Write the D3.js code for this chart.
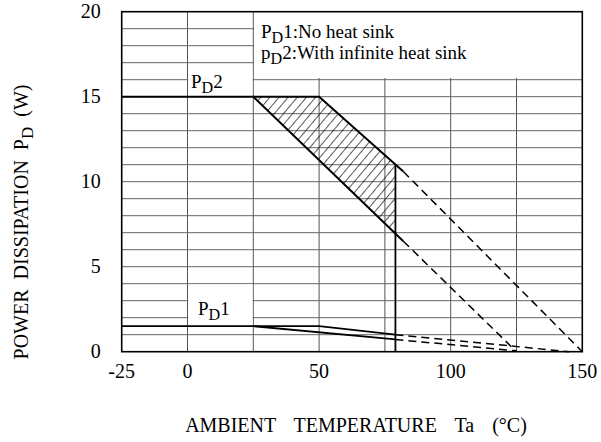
<!DOCTYPE html>
<html>
<head>
<meta charset="utf-8">
<script src="https://cdn.jsdelivr.net/npm/d3@7"></script>
<style>
  body { margin: 0; background: #fff; }
  text { font-family: "Liberation Serif", "Times New Roman", serif; fill: #000; }
</style>
</head>
<body>
<div class="dataviz"></div>
<script>
// derating curve
var xTicks = [-25, 0, 50, 100, 150];
var yTicks = [0, 5, 10, 15, 20];
var xGrid = [0, 25, 50, 75, 100, 125];
var yGrid = [1, 2, 3, 4, 5, 6, 7, 8, 9, 10, 11, 12, 13, 14, 15, 16, 17, 18, 19];

// P_D2 with infinite heat sink (two bounds, hatched between)
var pd2Upper = [[-25, 15], [50, 15], [82, 10.6]];
var pd2Lower = [[25, 15], [82, 6.5]];
var pd2UpperDash = [[82, 10.6], [150, 0]];
var pd2LowerDash = [[82, 6.5], [125, 0]];
var pd2Hatch = [[25, 15], [50, 15], [79, 11], [79, 6.95]];
var cutoff = [[79, 11], [79, 0]];

// P_D1 no heat sink
var pd1Upper = [[-25, 1.5], [50, 1.5], [79, 1.0]];
var pd1Lower = [[25, 1.5], [79, 0.72]];
var pd1UpperDash = [[79, 1.0], [145, 0]];
var pd1LowerDash = [[79, 0.72], [125, 0.05]];

var W = 601, H = 442;
var margin = {top: 11.7, right: 18.7, bottom: 90.3, left: 121.7};
var width = W - margin.left - margin.right,
    height = H - margin.top - margin.bottom;

var svg = d3.select(".dataviz").append("svg")
  .attr("width", W)
  .attr("height", H);

var x = d3.scaleLinear().domain([-25, 150]).range([0, width]);
var y = d3.scaleLinear().domain([0, 20]).range([height, 0]);

var defs = svg.append("defs");
var pat = defs.append("pattern")
  .attr("id", "hatch")
  .attr("patternUnits", "userSpaceOnUse")
  .attr("width", 7)
  .attr("height", 7)
  .attr("patternTransform", "rotate(40)");
pat.append("line")
  .attr("x1", 0).attr("y1", 0).attr("x2", 0).attr("y2", 7)
  .attr("stroke", "#000").attr("stroke-width", 1.3);

var g = svg.append("g").attr("transform", "translate(" + margin.left + "," + margin.top + ")");

// grid
g.selectAll(".vgrid").data(xGrid).enter().append("line")
  .attr("class", "vgrid")
  .attr("x1", function(d) { return x(d); }).attr("x2", function(d) { return x(d); })
  .attr("y1", 0).attr("y2", height)
  .attr("stroke", "#555").attr("stroke-width", 1);
g.selectAll(".hgrid").data(yGrid).enter().append("line")
  .attr("class", "hgrid")
  .attr("x1", 0).attr("x2", width)
  .attr("y1", function(d) { return y(d); }).attr("y2", function(d) { return y(d); })
  .attr("stroke", "#666").attr("stroke-width", 1);

// white boxes behind labels
function box(x0, x1, y0, y1) {
  g.append("rect")
    .attr("x", x(x0)).attr("y", y(y1))
    .attr("width", x(x1) - x(x0)).attr("height", y(y0) - y(y1))
    .attr("fill", "#fff");
}
box(25.3, 150, 16.1, 20);
box(0.3, 24.7, 15.1, 16.9);
box(0.3, 24.7, 1.6, 3.95);

var line = d3.line().x(function(d) { return x(d[0]); }).y(function(d) { return y(d[1]); });

g.append("path").datum(pd2Hatch)
  .attr("d", function(d) { return line(d) + "Z"; })
  .attr("fill", "url(#hatch)").attr("stroke", "none");

function solid(data, w) {
  g.append("path").datum(data).attr("d", line)
    .attr("fill", "none").attr("stroke", "#000").attr("stroke-width", w);
}
function dashed(data) {
  g.append("path").datum(data).attr("d", line)
    .attr("fill", "none").attr("stroke", "#000").attr("stroke-width", 1.5)
    .attr("stroke-dasharray", "8,5");
}
solid(pd2Upper, 2);
solid(pd2Lower, 2);
solid(cutoff, 1.8);
dashed(pd2UpperDash);
dashed(pd2LowerDash);
solid(pd1Upper, 1.8);
solid(pd1Lower, 1.8);
dashed(pd1UpperDash);
dashed(pd1LowerDash);

// frame
g.append("rect").attr("x", 0).attr("y", 0).attr("width", width).attr("height", height)
  .attr("fill", "none").attr("stroke", "#000").attr("stroke-width", 1.6);

// ticks labels
g.selectAll(".xt").data(xTicks).enter().append("text")
  .attr("x", function(d) { return x(d); })
  .attr("y", height + 26)
  .attr("text-anchor", "middle")
  .style("font-size", "20px")
  .text(function(d) { return d; });
g.selectAll(".yt").data(yTicks).enter().append("text")
  .attr("x", -21)
  .attr("y", function(d) { return y(d) + 6; })
  .attr("text-anchor", "end")
  .style("font-size", "20px")
  .text(function(d) { return d; });

// labels with subscript D
function sublabel(px, py, pre, rest, size) {
  var t = svg.append("text").attr("x", px).attr("y", py).style("font-size", size + "px");
  t.append("tspan").text(pre);
  t.append("tspan").attr("dy", 5).style("font-size", (size * 0.85) + "px").text("D");
  t.append("tspan").attr("dy", -5).text(rest);
  return t;
}
sublabel(261, 38, "P", "1:No heat sink", 19);
sublabel(261, 59, "p", "2:With infinite heat sink", 19);
sublabel(191, 88, "P", "2", 19);
sublabel(198, 315, "P", "1", 19);

// axis titles
svg.append("text")
  .attr("x", 356).attr("y", 432)
  .attr("text-anchor", "middle")
  .style("font-size", "20px")
  .style("word-spacing", "13px")
  .text("AMBIENT TEMPERATURE Ta (\u00B0C)");

var yt = svg.append("text")
  .attr("transform", "translate(28,222) rotate(-90)")
  .attr("text-anchor", "middle")
  .style("font-size", "20px")
  .style("word-spacing", "5px");
yt.append("tspan").text("POWER DISSIPATION P");
yt.append("tspan").attr("dy", 5).style("font-size", "17px").text("D");
yt.append("tspan").attr("dy", -5).text(" (W)");
</script>
</body>
</html>
